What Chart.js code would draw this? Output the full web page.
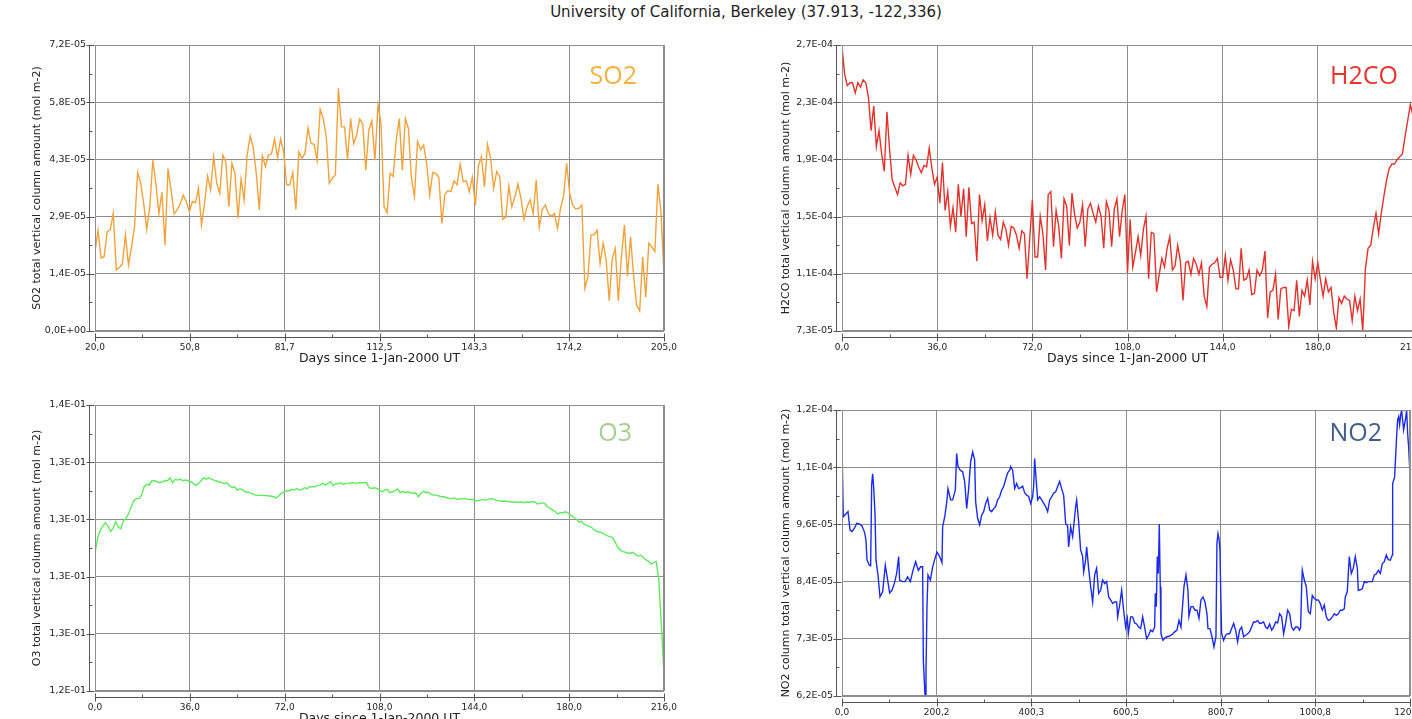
<!DOCTYPE html>
<html>
<head>
<meta charset="utf-8">
<script src="https://cdn.jsdelivr.net/npm/chart.js@4.4.1/dist/chart.umd.min.js"></script>
<style>
    html, body { margin: 0; padding: 0; background: #fff; width: 1412px; height: 719px; overflow: hidden; }
    #title { position: absolute; left: 0; top: 3px; width: 1492px; text-align: center; font: 15px 'DejaVu Sans', sans-serif; color: #222; white-space: nowrap; }
    canvas { position: absolute; }
</style>
</head>
<body>
<div id="title">University of California, Berkeley (37.913, -122,336)</div>
<canvas id="cSO2" width="670" height="345" style="left:20px;top:30px"></canvas>
<canvas id="cH2CO" width="660" height="345" style="left:770px;top:30px"></canvas>
<canvas id="cO3" width="670" height="345" style="left:20px;top:390px"></canvas>
<canvas id="cNO2" width="660" height="360" style="left:770px;top:390px"></canvas>
<script>
// SO2, daily, days 20..205 (units 1e-5 mol m-2)
var SO2_DAYS = [20, 205];
var SO2_VALS = [
    2.00, 2.53, 1.84, 1.87, 2.50, 2.54, 2.96, 1.54, 1.60, 1.69, 2.42, 1.66, 2.12, 2.63, 3.99, 3.73, 3.21, 2.56, 3.13, 4.30,
    3.72, 2.95, 3.50, 2.16, 4.09, 3.55, 2.95, 3.05, 3.20, 3.42, 3.26, 3.00, 3.26, 3.23, 3.59, 2.67, 3.21, 3.90, 3.55, 4.39,
    3.72, 3.47, 4.43, 4.26, 3.13, 4.22, 3.97, 2.84, 3.82, 3.30, 4.43, 4.91, 4.62, 3.97, 3.05, 4.41, 4.14, 4.43, 4.46, 4.83,
    4.36, 4.83, 4.51, 3.68, 3.68, 3.99, 3.06, 4.51, 4.35, 4.47, 5.11, 4.72, 4.70, 4.29, 5.58, 5.35, 4.89, 3.72, 3.84, 3.94,
    6.11, 5.14, 5.14, 4.32, 5.35, 4.72, 4.93, 5.34, 5.21, 4.05, 5.06, 5.29, 4.30, 5.69,
    5.23, 3.13, 2.98, 3.97, 3.89, 4.81, 5.35, 4.05, 5.35, 5.10, 3.84, 3.38, 4.77, 4.57, 4.68, 4.22, 3.42, 3.99, 3.97, 3.87,
    2.71, 3.45, 3.53, 3.51, 3.78, 3.68, 4.20, 3.76, 3.78, 3.51, 3.87, 3.17, 4.15, 4.39, 3.63, 4.70, 4.35, 3.59, 4.01, 3.89,
    2.81, 2.86, 3.65, 3.13, 3.38, 3.70, 3.34, 2.81, 3.13, 3.30, 2.95, 3.80, 2.61, 3.06, 3.17, 2.96, 2.88, 2.96, 2.58, 3.09,
    3.40, 4.22, 3.47, 3.17, 3.07, 3.09, 3.17, 1.07, 1.37, 2.42, 2.42, 2.54, 1.70, 2.21, 1.79, 0.76, 1.83, 2.08, 0.76, 1.87,
    2.67, 1.38, 2.37, 1.41, 0.65, 0.51, 1.87, 0.86, 2.21, 2.12, 2.00, 3.70, 3.00, 1.41
];

// H2CO, daily, days 0..216 (units 1e-4 mol m-2)
var H2CO_DAYS = [0, 216];
var H2CO_VALS = [
    2.69, 2.50, 2.42, 2.44, 2.44, 2.37, 2.44, 2.41, 2.46, 2.44, 2.34, 2.11, 2.28, 2.00, 2.11, 1.95, 1.83, 2.24, 1.98, 1.77,
    1.72, 1.67, 1.75, 1.73, 1.74, 1.94, 1.81, 1.94, 1.91, 1.86, 1.82, 1.87, 1.86, 1.99, 1.85, 1.74, 1.79, 1.61, 1.89, 1.56,
    1.69, 1.45, 1.58, 1.41, 1.74, 1.52, 1.71, 1.38, 1.72, 1.47, 1.48, 1.21, 1.67, 1.49, 1.60, 1.35, 1.51, 1.39, 1.55, 1.39,
    1.36, 1.48, 1.43, 1.32, 1.45, 1.44, 1.39, 1.30, 1.42, 1.40, 1.09, 1.36, 1.63, 1.24, 1.24, 1.52, 1.40, 1.15, 1.67, 1.69,
    1.31, 1.56, 1.45, 1.23, 1.64, 1.59, 1.32, 1.68, 1.53, 1.44, 1.48, 1.60, 1.31, 1.57, 1.61, 1.54, 1.48, 1.59, 1.52, 1.30,
    1.62, 1.56, 1.31, 1.57, 1.64, 1.38, 1.56, 1.67, 1.13, 1.50,
    1.17, 1.27, 1.38, 1.25, 1.43, 1.52, 1.09, 1.41, 1.40, 1.00, 1.12, 1.23, 1.17, 1.30, 1.38, 1.15, 1.18, 1.32, 1.21, 0.94,
    1.20, 1.21, 1.12, 1.23, 1.19, 1.12, 1.20, 0.97, 0.90, 1.17, 1.19, 1.20, 1.23, 1.10, 1.10, 1.25, 1.08, 1.22, 1.15, 1.02,
    1.02, 1.30, 1.08, 1.09, 1.15, 0.98, 0.99, 1.15, 1.11, 1.15, 1.28, 0.82, 1.00, 1.01, 1.12, 0.81, 1.02, 1.03, 1.03, 0.76,
    0.88, 0.87, 1.08, 0.83, 1.01, 0.97, 1.08, 0.91, 1.21, 1.09, 1.20, 1.08, 0.97, 1.09, 1.00, 1.03, 0.86, 0.75, 0.96, 0.92,
    0.97, 0.95, 0.94, 0.80, 0.97, 0.87, 0.95, 0.73, 1.16, 1.30, 1.32, 1.44, 1.54, 1.40, 1.54, 1.66, 1.77, 1.85, 1.88, 1.88,
    1.91, 1.93, 1.95, 2.07, 2.18, 2.29, 2.21
];

// O3, days 0..216 (units 1e-1 mol m-2)
var O3_DAYS = [0, 216];
var O3_VALS = [
    1.2978, 1.3041, 1.3073, 1.3092, 1.3106, 1.3092, 1.3069, 1.3082, 1.3110, 1.3087, 1.3081, 1.3115, 1.3124, 1.3145, 1.3173,
    1.3199, 1.3207, 1.3207, 1.3222, 1.3257, 1.3267, 1.3264, 1.3282, 1.3282, 1.3278, 1.3274, 1.3277, 1.3282, 1.3282, 1.3295,
    1.3274, 1.3288, 1.3285, 1.3289, 1.3282, 1.3285, 1.3282, 1.3278, 1.3271, 1.3263, 1.3271, 1.3282, 1.3295, 1.3289, 1.3295,
    1.3288, 1.3285, 1.3281, 1.3277, 1.3274, 1.3271, 1.3274, 1.3261, 1.3254, 1.3257, 1.3243, 1.3248, 1.3246, 1.3236, 1.3234,
    1.3231, 1.3227, 1.3222, 1.3220, 1.3222, 1.3221, 1.3220, 1.3218, 1.3218, 1.3215, 1.3210, 1.3218, 1.3229, 1.3235, 1.3239,
    1.3239, 1.3246, 1.3243, 1.3249, 1.3243, 1.3246, 1.3253, 1.3249, 1.3257, 1.3257, 1.3257, 1.3263, 1.3264, 1.3271, 1.3264,
    1.3271, 1.3278, 1.3261, 1.3270, 1.3269, 1.3274, 1.3267, 1.3271, 1.3271, 1.3274, 1.3274, 1.3271, 1.3274, 1.3274, 1.3274,
    1.3274, 1.3253, 1.3250, 1.3253, 1.3250, 1.3243, 1.3236, 1.3243, 1.3246, 1.3232, 1.3236, 1.3241, 1.3248, 1.3232, 1.3238,
    1.3232, 1.3235, 1.3232, 1.3229, 1.3232, 1.3215, 1.3229, 1.3239, 1.3232, 1.3234, 1.3225, 1.3222, 1.3222, 1.3218, 1.3215,
    1.3215, 1.3211, 1.3208, 1.3207, 1.3210, 1.3204, 1.3207, 1.3206, 1.3208, 1.3204, 1.3204, 1.3204, 1.3197, 1.3199, 1.3201,
    1.3203, 1.3201, 1.3204, 1.3207, 1.3206, 1.3201, 1.3199, 1.3196, 1.3197, 1.3196, 1.3194, 1.3193, 1.3193, 1.3192, 1.3192,
    1.3193, 1.3190, 1.3193, 1.3192, 1.3194, 1.3194, 1.3185, 1.3187, 1.3190, 1.3185, 1.3173, 1.3166, 1.3159, 1.3152, 1.3143,
    1.3148, 1.3148, 1.3152, 1.3145, 1.3137, 1.3129, 1.3123, 1.3109, 1.3112, 1.3101, 1.3095, 1.3092, 1.3087, 1.3076, 1.3070,
    1.3067, 1.3064, 1.3057, 1.3052, 1.3048, 1.3045, 1.3027, 1.3006, 1.2992, 1.2985, 1.2983, 1.2978, 1.2978, 1.2982, 1.2973,
    1.2966, 1.2969, 1.2961, 1.2950, 1.2945, 1.2933, 1.2940, 1.2943, 1.2866, 1.2670, 1.2474
];

// NO2, irregular sampling, days 0..1201 (units 1e-5 mol m-2)
var NO2_DAYS = [
    0.0, 2.8, 8.5, 12.7, 16.9, 21.1, 26.1, 31.0, 36.6, 42.3, 47.9, 50.7, 52.9, 57.8, 60.6, 62.7, 64.8, 66.9, 69.8, 71.9,
    76.1, 80.3, 86.0, 91.6, 96.5, 100.8, 105.7, 110.6, 115.6, 119.8, 121.9, 127.6, 133.2, 138.8, 144.5, 150.1, 155.7, 161.4, 166.3, 170.5,
    172.0, 175.5, 177.6, 179.7, 181.8, 186.8, 191.7, 195.9, 200.8, 206.5, 211.4, 212.8, 217.8, 222.0, 224.1, 229.7, 234.0, 239.6, 242.4, 245.3,
    250.2, 255.1, 259.4, 263.6, 267.8, 272.0, 276.3, 280.5, 282.6, 286.8, 291.1, 295.3, 299.5, 303.8, 308.0, 312.2, 316.4, 320.7, 324.9, 329.1,
    333.3, 337.6, 341.8, 346.0, 350.3, 354.5, 356.6, 360.8, 365.1, 369.3, 373.5, 377.8, 382.0, 386.2, 390.4, 394.7, 398.9, 403.1, 405.2, 407.4,
    409.5, 413.7, 417.9, 422.2, 426.4, 430.6, 434.8, 439.1, 443.3, 447.5, 451.8, 456.0, 460.2, 464.4, 468.7, 472.9, 477.1, 479.2, 483.5, 487.7,
    491.9, 494.0, 496.2, 500.4, 504.6, 508.8, 511.0, 515.2, 517.3, 521.5, 525.8, 530.0, 534.2, 538.4, 542.7, 546.9, 551.1, 555.4, 559.6, 563.8,
    568.0, 572.3, 576.5, 580.7, 582.8, 587.1, 591.3, 595.5, 599.7,
    603.3, 605.4, 610.3, 614.5, 618.8, 623.0, 627.2, 631.5, 635.7, 639.9, 644.1, 648.4, 652.6, 656.8, 661.1, 662.5, 664.6, 666.7, 668.8, 670.9,
    673.0, 674.4, 678.7, 682.9, 687.1, 691.4, 695.6, 699.8, 704.0, 708.3, 712.5, 716.7, 721.0, 723.1, 727.3, 731.5, 733.6, 737.9, 742.1, 746.3,
    750.6, 754.8, 759.0, 763.2, 767.5, 771.7, 773.8, 778.0, 782.3, 786.5, 790.7, 792.8, 795.0, 797.1, 799.2, 800.6, 802.7, 806.9, 811.2, 815.4,
    819.6, 823.9, 828.1, 832.3, 836.5, 840.8, 845.0, 849.2, 853.5, 857.7, 861.9, 866.1, 870.4, 874.6, 878.8, 883.1, 887.3, 891.5, 895.7, 900.0,
    904.2, 908.4, 912.7, 916.9, 921.1, 925.3, 929.6, 933.8, 938.0, 942.3, 946.5, 950.7, 954.9, 959.2, 963.4, 967.6, 969.7, 971.9, 973.3, 977.5,
    981.7, 986.0, 990.2, 994.4, 998.6, 1002.9, 1007.1, 1011.3, 1015.6, 1019.8, 1024.0, 1028.2, 1032.5, 1036.7, 1040.9, 1045.2, 1049.4, 1053.6, 1057.8, 1062.1,
    1064.2, 1068.4, 1072.6, 1076.9, 1081.1, 1085.3, 1089.6, 1091.7, 1095.9, 1100.1, 1104.4, 1108.6, 1112.8, 1117.0, 1121.3, 1125.5, 1129.7, 1134.0, 1138.2, 1142.4,
    1146.6, 1150.9, 1155.1, 1159.3, 1163.6, 1164.3, 1168.5, 1172.7, 1174.8, 1177.0, 1179.1, 1181.2, 1183.3, 1185.4, 1187.5, 1191.7, 1193.9, 1196.0, 1198.1, 1201.0
];
var NO2_VALS = [
    11.05, 9.71, 9.77, 9.81, 9.45, 9.42, 9.48, 9.58, 9.57, 9.53, 9.40, 9.25, 8.86, 8.76, 8.75, 10.33, 10.55, 10.30, 9.77, 8.86,
    8.57, 8.14, 8.24, 8.76, 8.47, 8.22, 8.27, 8.40, 8.60, 8.93, 8.47, 8.44, 8.44, 8.53, 8.44, 8.66, 8.83, 8.66, 8.73, 8.73,
    6.90, 6.21, 6.64, 7.95, 8.57, 8.47, 8.73, 8.87, 9.02, 8.93, 8.81, 9.51, 9.74, 10.04, 10.26, 10.04, 10.04, 10.23, 10.95, 10.69,
    10.62, 10.59, 10.40, 9.87, 10.26, 10.79, 10.98, 10.82, 10.00, 9.68, 9.55, 9.74, 9.81, 9.97, 10.07, 9.84, 9.81, 9.87, 9.91, 10.04,
    10.10, 10.23, 10.30, 10.44, 10.57, 10.62, 10.69, 10.62, 10.26, 10.36, 10.26, 10.28, 10.31, 10.18, 10.13, 10.11, 9.97, 10.10, 10.30, 10.85,
    10.56, 10.04, 10.10, 10.04, 9.97, 9.91, 9.81, 10.04, 10.10, 10.17, 10.20, 10.30, 10.40, 10.26, 10.13, 9.58, 9.53, 9.12, 9.51, 9.32,
    9.71, 9.91, 10.04, 9.61, 9.06, 8.93, 8.63, 8.87, 9.12, 8.70, 8.34, 8.04, 8.57, 8.70, 8.21, 8.27, 8.47, 8.40, 8.44, 8.14,
    8.08, 8.01, 8.04, 8.04, 7.75, 7.98, 8.27, 7.88, 7.55,
    7.72, 7.42, 7.75, 7.75, 7.63, 7.61, 7.55, 7.52, 7.75, 7.55, 7.32, 7.39, 7.49, 7.46, 7.55, 8.21, 7.95, 8.93, 8.60, 9.57,
    8.34, 7.42, 7.29, 7.34, 7.36, 7.37, 7.39, 7.42, 7.46, 7.49, 7.68, 7.55, 8.08, 8.34, 8.57, 8.27, 7.76, 7.95, 7.95, 7.88,
    7.88, 7.72, 8.08, 8.14, 8.04, 7.81, 7.52, 7.52, 7.36, 7.16, 7.36, 9.19, 9.38, 9.28, 9.06, 8.34, 7.42, 7.29, 7.39, 7.42,
    7.42, 7.52, 7.62, 7.49, 7.26, 7.49, 7.55, 7.36, 7.39, 7.42, 7.46, 7.55, 7.65, 7.65, 7.68, 7.62, 7.63, 7.65, 7.55, 7.52,
    7.61, 7.49, 7.55, 7.65, 7.63, 7.81, 7.75, 7.42, 7.62, 7.88, 7.81, 7.55, 7.49, 7.55, 7.55, 7.49, 7.55, 8.34, 8.66, 8.47,
    8.34, 7.85, 7.81, 8.17, 8.11, 8.08, 8.08, 8.01, 7.88, 7.98, 7.75, 7.68, 7.70, 7.75, 7.81, 7.78, 7.81, 7.88, 7.88, 7.91,
    8.14, 8.24, 8.93, 8.60, 8.70, 8.93, 8.70, 8.27, 8.28, 8.30, 8.44, 8.42, 8.44, 8.44, 8.44, 8.57, 8.59, 8.66, 8.60, 8.79,
    8.83, 8.96, 8.87, 8.86, 8.96, 10.36, 10.49, 11.28, 11.60, 11.67, 11.51, 11.70, 11.80, 11.60, 11.41, 11.64, 11.80, 11.34, 11.08, 10.53
];

(function () {
    var FONT = "'DejaVu Sans', sans-serif";
    var GRID = '#8e8e8e';

    // "7,2E-05" style labels
    function fmtSci(v) {
        if (Math.abs(v) < 1e-20) return '0,0E+00';
        var e = Math.floor(Math.log10(Math.abs(v)));
        var ms = (v / Math.pow(10, e)).toFixed(1);
        if (ms === '10.0') { e += 1; ms = '1.0'; }
        var es = (e < 0 ? '-' : '+') + (Math.abs(e) < 10 ? '0' : '') + Math.abs(e);
        return ms.replace('.', ',') + 'E' + es;
    }

    function evenTicks(n) {
        return function (scale) {
            var t = [];
            for (var i = 0; i < n; i++) t.push({ value: scale.min + (scale.max - scale.min) * i / (n - 1) });
            scale.ticks = t;
        };
    }

    // daily series: spread the values evenly over [first day, last day]
    function daily(days, vals) {
        var n = vals.length;
        return vals.map(function (v, i) { return { x: days[0] + (days[1] - days[0]) * i / (n - 1), y: v }; });
    }
    function paired(days, vals) {
        return vals.map(function (v, i) { return { x: days[i], y: v }; });
    }

    var deco = {
        id: 'deco',
        afterDraw: function (chart, args, o) {
            var ctx = chart.ctx, a = chart.chartArea, xs = chart.scales.x, ys = chart.scales.y;
            ctx.save();
            ctx.strokeStyle = GRID;
            ctx.lineWidth = 1;
            ctx.strokeRect(a.left + 0.5, a.top + 0.5, a.right - a.left - 1, a.bottom - a.top - 1);

            ctx.strokeStyle = '#555';
            ctx.beginPath();
            // x axis, slightly below the box
            var yb = Math.round(a.bottom) + 6.5;
            ctx.moveTo(a.left, yb); ctx.lineTo(a.right, yb);
            xs.ticks.forEach(function (t, i) {
                var px = Math.round(xs.getPixelForValue(t.value)) + 0.5;
                ctx.moveTo(px, yb - 4); ctx.lineTo(px, yb + 4);
                if (i < xs.ticks.length - 1) {
                    var pm = Math.round(xs.getPixelForValue((t.value + xs.ticks[i + 1].value) / 2)) + 0.5;
                    ctx.moveTo(pm, yb - 3); ctx.lineTo(pm, yb);
                }
            });
            // y axis, slightly left of the box
            var xl = Math.round(a.left) - 5.5;
            ctx.moveTo(xl, a.top); ctx.lineTo(xl, a.bottom);
            ys.ticks.forEach(function (t, i) {
                var py = Math.round(ys.getPixelForValue(t.value)) + 0.5;
                ctx.moveTo(xl - 3, py); ctx.lineTo(xl + 5, py);
                if (i < ys.ticks.length - 1) {
                    var pm = Math.round(ys.getPixelForValue((t.value + ys.ticks[i + 1].value) / 2)) + 0.5;
                    ctx.moveTo(xl, pm); ctx.lineTo(xl + 3, pm);
                }
            });
            ctx.stroke();

            ctx.fillStyle = o.color;
            ctx.font = "25px 'Open Sans', sans-serif";
            ctx.textAlign = 'right';
            ctx.textBaseline = 'middle';
            ctx.fillText(o.text, a.right + o.dx, a.top + o.dy);
            ctx.restore();
        }
    };

    function panel(id, p) {
        new Chart(document.getElementById(id), {
            type: 'line',
            data: {
                datasets: [{
                    data: p.data,
                    borderColor: p.color,
                    borderWidth: 1.4,
                    pointRadius: 0,
                    tension: 0,
                    fill: false
                }]
            },
            plugins: [deco],
            options: {
                responsive: false,
                animation: false,
                events: [],
                layout: { padding: { left: 0, top: p.padTop, right: p.padRight, bottom: 0 } },
                plugins: {
                    legend: { display: false },
                    tooltip: { enabled: false },
                    deco: { text: p.label, color: p.labelColor, dx: p.dx, dy: p.dy }
                },
                scales: {
                    x: {
                        type: 'linear',
                        min: p.xMin, max: p.xMax,
                        afterBuildTicks: evenTicks(7),
                        afterFit: function (s) { s.height = p.xHeight; s.paddingLeft = 0; s.paddingRight = 0; },
                        grid: { color: GRID, drawTicks: false },
                        border: { display: false },
                        ticks: {
                            autoSkip: false, maxRotation: 0, padding: 11, color: '#222',
                            font: { family: FONT, size: 9 },
                            callback: function (v) { return v.toFixed(1).replace('.', ','); }
                        },
                        title: { display: true, text: 'Days since 1-Jan-2000 UT', color: '#222', font: { family: FONT, size: 12.5 }, padding: { top: 0, bottom: 9 } }
                    },
                    y: {
                        min: p.yMin, max: p.yMax,
                        afterBuildTicks: evenTicks(6),
                        afterFit: function (s) { s.width = p.yWidth; },
                        grid: { color: GRID, drawTicks: false },
                        border: { display: false },
                        ticks: {
                            padding: 9, color: '#222',
                            font: { family: FONT, size: 9.5 },
                            callback: function (v) { return fmtSci(v * p.unit); }
                        },
                        title: { display: true, text: p.yTitle, color: '#222', font: { family: FONT, size: 11 }, padding: { top: p.yTitlePad, bottom: 0 } }
                    }
                }
            }
        });
    }

    panel('cSO2', {
        data: daily(SO2_DAYS, SO2_VALS), color: '#f2a23a',
        xMin: 20, xMax: 205, yMin: 0, yMax: 7.2, unit: 1e-5,
        yTitle: 'SO2 total vertical column amount (mol m-2)',
        label: 'SO2', labelColor: '#f4b23e', dx: -27, dy: 32,
        padTop: 15, padRight: 26, yWidth: 75, xHeight: 44, yTitlePad: 11
    });
    panel('cH2CO', {
        data: daily(H2CO_DAYS, H2CO_VALS), color: '#e3322b',
        xMin: 0, xMax: 216, yMin: 0.73, yMax: 2.7, unit: 1e-4,
        yTitle: 'H2CO total vertical column amount (mol m-2)',
        label: 'H2CO', labelColor: '#e6362d', dx: -15, dy: 32,
        padTop: 15, padRight: 17, yWidth: 72, xHeight: 44, yTitlePad: 10
    });
    panel('cO3', {
        data: daily(O3_DAYS, O3_VALS), color: '#5fea5f',
        xMin: 0, xMax: 216, yMin: 1.24, yMax: 1.36, unit: 1e-1,
        yTitle: 'O3 total vertical column amount (mol m-2)',
        label: 'O3', labelColor: '#a7cf8d', dx: -32, dy: 29,
        padTop: 15, padRight: 26, yWidth: 75, xHeight: 44, yTitlePad: 11
    });
    panel('cNO2', {
        data: paired(NO2_DAYS, NO2_VALS), color: '#1c2bea',
        xMin: 0, xMax: 1201, yMin: 6.2, yMax: 11.8, unit: 1e-5,
        yTitle: 'NO2 column total vertical column amount (mol m-2)',
        label: 'NO2', labelColor: '#3f5d8d', dx: -28, dy: 24,
        padTop: 20, padRight: 20, yWidth: 72, xHeight: 54, yTitlePad: 10
    });
})();
</script>
</body>
</html>
